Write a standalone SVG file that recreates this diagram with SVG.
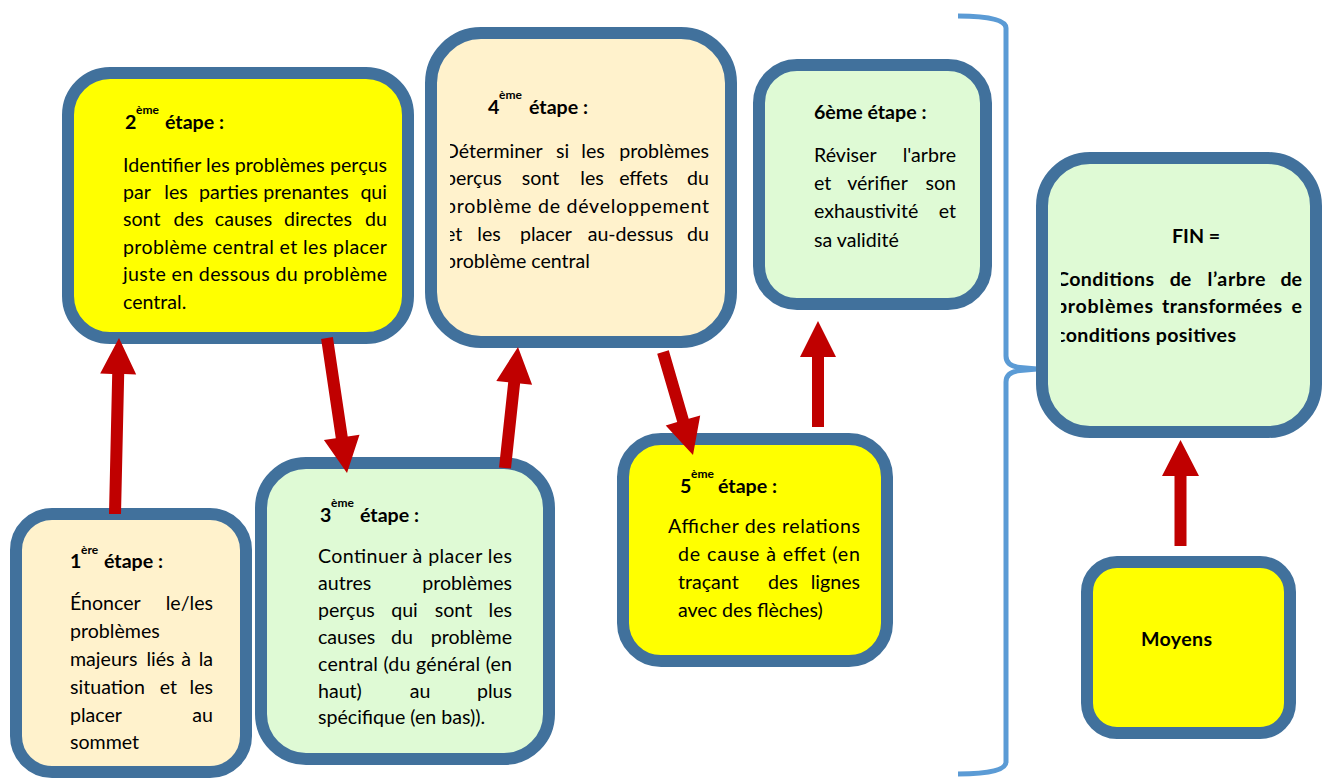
<svg xmlns="http://www.w3.org/2000/svg" width="1331" height="780" viewBox="0 0 1331 780">
  <style>
    .box { stroke: #41719C; stroke-width: 12; }
    .yel { fill: #FFFF00; }
    .crm { fill: #FFF2CC; }
    .grn { fill: #DFFAD5; }
    text { font-family: Lato, "Liberation Sans", sans-serif; font-size: 19.6px; fill: #000; }
    .b { font-weight: 700; }
    .sup { font-size: 12px; font-weight: 700; }
    .e { text-anchor: end; }
    .m { text-anchor: middle; }
    .arrow { fill: #C00000; }
    .brace { fill: none; stroke: #5B9BD5; stroke-width: 5; stroke-linejoin: round; }
  </style>
  <defs>
    <clipPath id="clip4"><rect x="450" y="0" width="300" height="400"/></clipPath>
    <clipPath id="clipFin"><rect x="1061" y="150" width="270" height="300"/></clipPath>
  </defs>

  <rect width="1331" height="780" fill="#FFFFFF"/>

  <!-- brace grouping the six steps -->
  <path class="brace" d="M958 16 Q1006 16 1006 28 L1006 356 Q1006 366 1020 367.5 L1037 369 L1020 370.5 Q1006 372 1006 382 L1006 762 Q1006 774 958 774"/>

  <g id="step1">
    <rect class="box crm" x="16" y="514" width="230" height="258" rx="36"/>
    <text class="b" x="70" y="568">1</text>
    <text class="sup" x="81" y="554">ère</text>
    <text class="b" x="104" y="568">étape :</text>
    <text x="70" y="610">Énoncer</text><text class="e" x="213" y="610">le/les</text>
    <text x="70" y="638">problèmes</text>
    <text x="70" y="666">majeurs</text><text class="m" x="160.5" y="666">liés</text><text class="m" x="186" y="666">à</text><text class="e" x="213" y="666">la</text>
    <text x="70" y="694">situation</text><text class="m" x="168.5" y="694">et</text><text class="e" x="213" y="694">les</text>
    <text x="70" y="722">placer</text><text class="e" x="213" y="722">au</text>
    <text x="70" y="749">sommet</text>
  </g>

  <g id="step2">
    <rect class="box yel" x="68" y="73" width="340" height="265" rx="42"/>
    <text class="b" x="125" y="129">2</text>
    <text class="sup" x="136" y="114">ème</text>
    <text class="b" x="165" y="129">étape :</text>
    <text x="123" y="172" textLength="264">Identifier les problèmes perçus</text>
    <text x="123" y="199">par</text><text class="m" x="176" y="199">les</text><text class="m" x="228.5" y="199">parties</text><text class="m" x="306" y="199">prenantes</text><text class="e" x="387" y="199">qui</text>
    <text x="123" y="226">sont</text><text class="m" x="188.5" y="226">des</text><text class="m" x="243.5" y="226">causes</text><text class="m" x="318" y="226">directes</text><text class="e" x="387" y="226">du</text>
    <text x="123" y="254" textLength="264">problème central et les placer</text>
    <text x="123" y="281" textLength="264">juste en dessous du problème</text>
    <text x="123" y="309">central.</text>
  </g>

  <g id="step3">
    <rect class="box grn" x="261" y="463" width="288" height="296" rx="45"/>
    <text class="b" x="320" y="522">3</text>
    <text class="sup" x="331" y="507">ème</text>
    <text class="b" x="360" y="522">étape :</text>
    <text x="318" y="563" textLength="194">Continuer à placer les</text>
    <text x="318" y="590">autres</text><text class="e" x="512" y="590">problèmes</text>
    <text x="318" y="617">perçus</text><text class="m" x="404.5" y="617">qui</text><text class="m" x="453.5" y="617">sont</text><text class="e" x="512" y="617">les</text>
    <text x="318" y="644">causes</text><text class="m" x="402" y="644">du</text><text class="e" x="512" y="644">problème</text>
    <text x="318" y="671" textLength="194">central (du général (en</text>
    <text x="318" y="698">haut)</text><text class="m" x="420" y="698">au</text><text class="e" x="512" y="698">plus</text>
    <text x="318" y="724">spécifique (en bas)).</text>
  </g>

  <g id="step4">
    <rect class="box crm" x="431" y="33" width="300" height="309" rx="50"/>
    <text class="b" x="488" y="114">4</text>
    <text class="sup" x="499" y="99">ème</text>
    <text class="b" x="529" y="114">étape :</text>
    <g clip-path="url(#clip4)">
      <text x="444" y="158">Déterminer</text><text class="m" x="562.5" y="158">si</text><text class="m" x="593" y="158">les</text><text class="e" x="709" y="158">problèmes</text>
      <text x="445" y="185">perçus</text><text class="m" x="540.5" y="185">sont</text><text class="m" x="592" y="185">les</text><text class="m" x="643.5" y="185">effets</text><text class="e" x="709" y="185">du</text>
      <text x="445" y="213" textLength="264">problème de développement</text>
      <text x="445" y="241">et</text><text class="m" x="489" y="241">les</text><text class="m" x="546" y="241">placer</text><text class="m" x="630.5" y="241">au-dessus</text><text class="e" x="709" y="241">du</text>
      <text x="445" y="268">problème central</text>
    </g>
  </g>

  <g id="step5">
    <rect class="box yel" x="623" y="439" width="264" height="222" rx="38"/>
    <text class="b" x="680" y="493">5</text>
    <text class="sup" x="691" y="478">ème</text>
    <text class="b" x="718" y="493">étape :</text>
    <text x="668" y="533" textLength="192">Afficher des relations</text>
    <text x="678" y="561" textLength="182">de cause à effet (en</text>
    <text x="678" y="589">traçant</text><text class="m" x="783" y="589">des</text><text class="e" x="860" y="589">lignes</text>
    <text x="678" y="617">avec des flèches)</text>
  </g>

  <g id="step6">
    <rect class="box grn" x="759" y="65" width="227" height="239" rx="38"/>
    <text class="b" x="814" y="119">6ème étape :</text>
    <text x="814" y="162">Réviser</text><text class="e" x="956" y="162">l'arbre</text>
    <text x="814" y="190">et</text><text class="m" x="877.5" y="190">vérifier</text><text class="e" x="956" y="190">son</text>
    <text x="814" y="218">exhaustivité</text><text class="e" x="956" y="218">et</text>
    <text x="814" y="247">sa validité</text>
  </g>

  <g id="fin">
    <rect class="box grn" x="1042" y="158" width="274" height="274" rx="48"/>
    <text class="b" x="1172" y="243">FIN =</text>
    <g clip-path="url(#clipFin)">
      <text class="b" x="1056" y="286" textLength="98">Conditions</text><text class="b m" x="1180.5" y="286">de</text><text class="b m" x="1236.5" y="286" textLength="58">l’arbre</text><text class="b e" x="1302" y="286">de</text>
      <text class="b" x="1056" y="313" textLength="97">problèmes</text><text class="b m" x="1222" y="313" textLength="120">transformées</text><text class="b e" x="1302" y="313">e</text>
      <text class="b" x="1056" y="342" textLength="180">conditions positives</text>
    </g>
  </g>

  <g id="moyens">
    <rect class="box yel" x="1087" y="562" width="203" height="171" rx="30"/>
    <text class="b" x="1141" y="646" textLength="71">Moyens</text>
  </g>

  <!-- block arrows between the steps -->
  <g id="connectors">
    <polygon class="arrow" points="109,513.9 112.2,373.9 100.2,373.6 119,338 136.2,374.4 124.2,374.1 121,514.1"/>
    <polygon class="arrow" points="321.1,338.9 335.8,438.3 323.9,440 347,473 359.5,434.8 347.7,436.5 332.9,337.1"/>
    <polygon class="arrow" points="499,467.4 508.2,382.2 496.3,380.9 518,347 532.1,384.7 520.1,383.4 511,468.6"/>
    <polygon class="arrow" points="657.2,353.7 677.2,422.1 665.7,425.5 693,455 700.2,415.4 688.7,418.8 668.8,350.3"/>
    <polygon class="arrow" points="812,427 812,357 800,357 818,321 836,357 824,357 824,427"/>
    <polygon class="arrow" points="1174.5,546 1174.5,476 1162,476 1180.5,440 1199,476 1186.5,476 1186.5,546"/>
  </g>
</svg>
